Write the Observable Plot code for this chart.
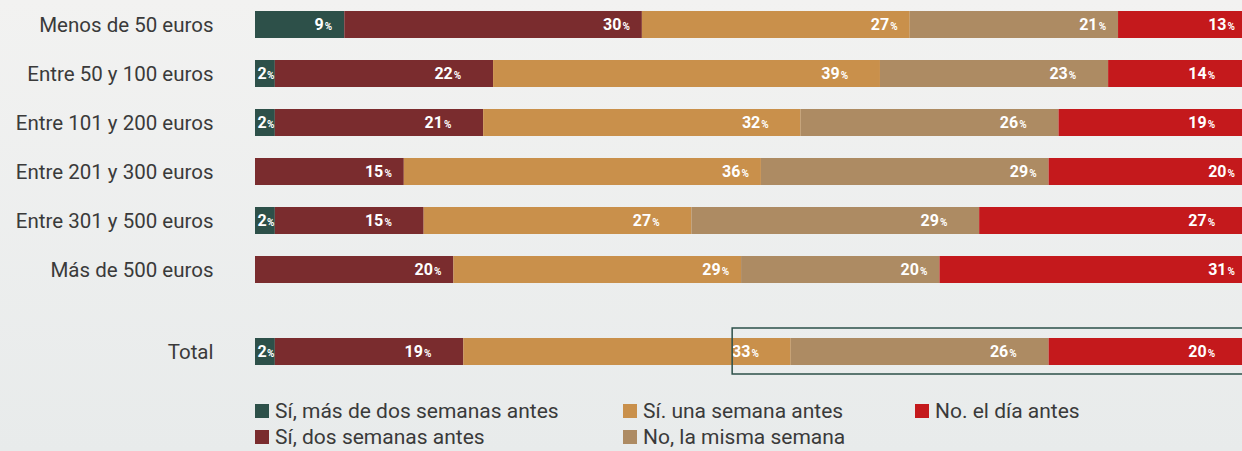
<!DOCTYPE html>
<html><head><meta charset="utf-8">
<script src="https://cdn.jsdelivr.net/npm/d3@7"></script>
<script src="https://cdn.jsdelivr.net/npm/@observablehq/plot@0.6"></script>
<style>
html,body{margin:0;padding:0;}
body{width:1242px;height:451px;overflow:hidden;background:linear-gradient(#f2f2f1,#e8ebeb);font-family:"Roboto",sans-serif;}
#chart{width:1247px;}
#legend{display:grid;grid-template-columns:368px 292px 300px;grid-auto-flow:column;grid-template-rows:26px 26px;margin-left:255px;margin-top:12px;}
.item{display:flex;align-items:center;font-size:21px;color:#3a3a3a;white-space:nowrap;}
.sw{width:14px;height:14px;margin-right:6px;flex:none;}
</style></head>
<body>
<div id="chart"></div>
<div id="legend"></div>
<script>
const categories = ["Menos de 50 euros","Entre 50 y 100 euros","Entre 101 y 200 euros","Entre 201 y 300 euros","Entre 301 y 500 euros","Más de 500 euros"];
const series = ["Sí, más de dos semanas antes","Sí, dos semanas antes","Sí. una semana antes","No, la misma semana","No. el día antes"];
const colors = ["#2d5049","#7a2c2e","#c9904b","#ad8b63","#c4191c"];
const masDeDosSemanas = [9,2,2,0,2,0];
const dosSemanas = [30,22,21,15,15,20];
const unaSemana = [27,39,32,36,27,29];
const mismaSemana = [21,23,26,29,29,20];
const diaAntes = [13,14,19,20,27,31];
const totalLabel = "Total";
const totalValues = [2,19,33,26,20];
const highlightStart = 48.1;

const seriesValues = [masDeDosSemanas,dosSemanas,unaSemana,mismaSemana,diaAntes];
const rows = [];
categories.forEach((c,i)=>series.forEach((s,j)=>rows.push({cat:c,serie:s,value:seriesValues[j][i]})));
const totalRows = series.map((s,j)=>({cat:totalLabel,serie:s,value:totalValues[j]}));

const color = {domain:series, range:colors};
const numFont = {fontFamily:"Roboto", fontWeight:700, fill:"white"};

function marks(data){
  const opt = {x:"value", y:"cat", z:"serie", order:series};
  return [
    Plot.barX(data, Plot.stackX({...opt, fill:"serie", filter:d=>d.value>0})),
    Plot.text(data, Plot.stackX2({...opt, filter:d=>d.value>=5, text:d=>String(d.value), textAnchor:"end", dx:-21, fontSize:16, ...numFont})),
    Plot.text(data, Plot.stackX2({...opt, filter:d=>d.value>=5, text:()=>"%", textAnchor:"end", dx:-12.5, dy:1.8, fontSize:10, ...numFont})),
    Plot.text(data, Plot.stackX1({...opt, filter:d=>d.value>0&&d.value<5, text:d=>String(d.value), textAnchor:"start", dx:2, fontSize:16, ...numFont})),
    Plot.text(data, Plot.stackX1({...opt, filter:d=>d.value>0&&d.value<5, text:()=>"%", textAnchor:"start", dx:11.5, dy:1.8, fontSize:10, ...numFont}))
  ];
}

const common = {width:1247, marginLeft:255, marginRight:0, marginBottom:0,
  x:{domain:[0,100], axis:null}, color,
  style:{background:"transparent", overflow:"visible"}};
const axisStyle = {tickSize:0, tickPadding:42, fontSize:20.5, fontFamily:"Roboto", fill:"#3a3a3a", label:null};

const p1 = Plot.plot({...common, height:294, marginTop:0,
  y:{domain:categories, paddingInner:0.45, paddingOuter:0.225},
  marks:[Plot.axisY({...axisStyle}), ...marks(rows)]});

const p2 = Plot.plot({...common, height:92, marginTop:44, marginBottom:21,
  y:{domain:[totalLabel], padding:0},
  marks:[Plot.axisY({...axisStyle}), ...marks(totalRows),
    Plot.rect([{x1:highlightStart,x2:100,cat:totalLabel}], {x1:"x1",x2:"x2",y:"cat",fill:"none",stroke:"#2d5049",strokeWidth:1.5,insetTop:-10,insetBottom:-9})]});

const chart = document.getElementById("chart");
chart.append(p1, p2);
for (const svg of chart.querySelectorAll("svg")) svg.style.display="block";

const legend = document.getElementById("legend");
series.forEach((s,j)=>{
  const it = document.createElement("div"); it.className="item";
  const sw = document.createElement("span"); sw.className="sw"; sw.style.background=colors[j];
  it.append(sw, document.createTextNode(s));
  legend.append(it);
});
</script>
</body></html>
